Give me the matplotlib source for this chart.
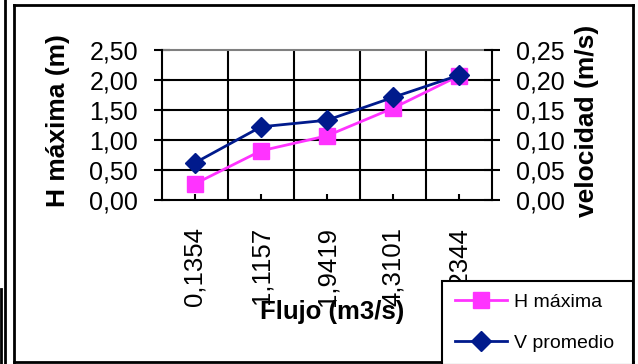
import matplotlib
matplotlib.use("Agg")
import matplotlib.pyplot as plt
from matplotlib.lines import Line2D
from matplotlib.ticker import FixedLocator, FuncFormatter

plt.rcParams['font.family'] = ['Liberation Sans', 'DejaVu Sans']

categories = ["0,1354", "1,1157", "1,9419", "4,3101", "8,2344"]
h_maxima = [0.27, 0.82, 1.07, 1.53, 2.07]
v_promedio = [0.062, 0.122, 0.133, 0.171, 0.208]
left_ticks = [0.0, 0.5, 1.0, 1.5, 2.0, 2.5]
right_ticks = [0.0, 0.05, 0.10, 0.15, 0.20, 0.25]

W, H = 638, 364
fig = plt.figure(figsize=(W / 100, H / 100), dpi=100)

def fx(px):
    return px / W

def fy(py):
    return 1 - py / H

ax = fig.add_axes([fx(162), fy(200), fx(492) - fx(162), fy(50) - fy(200)])
ax2 = ax.twinx()

pink = '#FF33FF'
navy = '#001A8C'

x = list(range(len(categories)))
l1, = ax.plot(x, h_maxima, color=pink, lw=2, marker='s', ms=11, mec=pink, mfc=pink, zorder=3)
l2, = ax2.plot(x, v_promedio, color=navy, lw=2, marker='D', ms=10, mec=navy, mfc=navy, zorder=3)

ax.set_xlim(-0.5, len(categories) - 0.5)
ax.set_ylim(0, 2.5)
ax2.set_ylim(0, 0.25)

# y ticks
ax.yaxis.set_major_locator(FixedLocator(left_ticks))
ax.yaxis.set_major_formatter(FuncFormatter(lambda v, p: f"{v:.2f}".replace('.', ',')))
ax2.yaxis.set_major_locator(FixedLocator(right_ticks))
ax2.yaxis.set_major_formatter(FuncFormatter(lambda v, p: f"{v:.2f}".replace('.', ',')))
ax.tick_params(axis='y', direction='inout', length=11.5, width=1.5, pad=11.5, labelsize=18, colors='black')
ax2.tick_params(axis='y', direction='inout', length=11.5, width=1.5, pad=11.5, labelsize=18, colors='black')

# x ticks
ax.set_xticks(x)
ax.set_xticklabels(categories, rotation=90, va='top', ha='center')
ax.tick_params(axis='x', direction='in', length=4.5, width=1.5, pad=19.5, labelsize=18.5)
ax.set_xticks([i + 0.5 for i in range(len(categories) - 1)], minor=True)
ax.tick_params(axis='x', which='minor', length=0)

# grid
ax.grid(True, which='minor', axis='x', color='black', lw=1.5)
for t in left_ticks[1:-1]:
    ax.axhline(t, color='black', lw=1.5, zorder=1)
ax.axhline(2.5, color='#808080', lw=1.5, zorder=1, clip_on=False)

for a in (ax, ax2):
    for s in ('left', 'right', 'bottom'):
        a.spines[s].set_linewidth(1.5)
        a.spines[s].set_color('black')
    a.spines['top'].set_visible(False)
ax2.spines['left'].set_visible(False)
ax.spines['right'].set_visible(False)
ax2.spines['bottom'].set_visible(False)

ax.set_axisbelow(True)

fig.text(fx(58), fy(121), "H máxima (m)", rotation=90, ha='center', va='center',
         fontsize=19, fontweight='bold')
fig.text(fx(587), fy(121), "velocidad (m/s)", rotation=90, ha='center', va='center',
         fontsize=19, fontweight='bold')
fig.text(fx(332), fy(312), "Flujo (m3/s)", ha='center', va='center',
         fontsize=18.5, fontweight='bold', zorder=5)

leg = fig.legend([l1, l2], ["H máxima", "V promedio"], loc='upper left',
                 bbox_to_anchor=(fx(442), fy(281), fx(633) - fx(442), 0), mode='expand',
                 fontsize=14, handlelength=2.7, labelspacing=1.2, borderpad=0.65,
                 frameon=True, fancybox=False, framealpha=1, edgecolor='black',
                 borderaxespad=0, handletextpad=0.35)
leg.get_frame().set_linewidth(1.5)
leg.set_zorder(10)

# outer frame
def vline(xp, y0, y1, lw=2):
    fig.add_artist(Line2D([fx(xp), fx(xp)], [fy(y0), fy(y1)], transform=fig.transFigure,
                          color='black', lw=lw))

def hline(yp, x0, x1, lw=2):
    fig.add_artist(Line2D([fx(x0), fx(x1)], [fy(yp), fy(yp)], transform=fig.transFigure,
                          color='black', lw=lw))

vline(13.5, 4.5, 362)
vline(633, 4.5, 362)
hline(4.5, 13.5, 633)
hline(362, 13.5, 633)
vline(5, 0, 364)
vline(1, 289, 364)

fig.savefig("out.png", dpi=100)
